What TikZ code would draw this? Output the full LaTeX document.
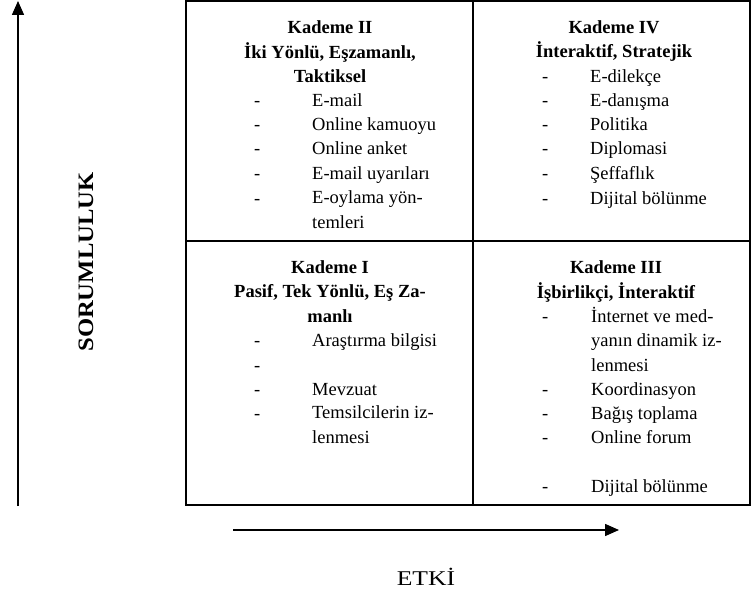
\documentclass[tikz,border=0pt]{standalone}
\usepackage{fontspec}
\setmainfont{Liberation Serif}
\usetikzlibrary{arrows.meta}

\begin{document}
\begin{tikzpicture}[x=1pt,y=-1pt,
  head/.style={anchor=base,font=\fontsize{18.5}{24.25}\selectfont\bfseries,align=center,inner sep=0pt},
  entry/.style={anchor=base west,font=\fontsize{18.5}{24.25}\selectfont,align=left,inner sep=0pt},
  frame/.style={line width=1.8pt},
  axis/.style={line width=1.5pt,-{Triangle[length=14pt,width=12pt]}}]
\useasboundingbox (0,0) rectangle (751,596);
\coordinate (nw) at (186,1);
\coordinate (se) at (750,505);
\coordinate (n) at (473,1);
\coordinate (s) at (473,505);
\coordinate (w) at (186,241);
\coordinate (e) at (750,241);
\draw[frame] (nw) rectangle (se);
\draw[frame] (n)--(s);
\draw[frame] (w)--(e);
% multi-line nodes sit on their last baseline
\node[head] (k2) at (330,82.5) {Kademe II\\İki Yönlü, Eşzamanlı,\\Taktiksel};
\foreach \yy/\txt [count=\i] in {107/E-mail, 131/Online kamuoyu, 155/Online anket, 179.5/E-mail uyarıları}
{
  \node[entry] (k2d\i) at (254,\yy) {-};
  \node[entry] (k2t\i) at (312,\yy) {\txt};
}
\node[entry] (k2d5) at (254,204) {-};
\node[entry] (k2t5) at (312,228) {E-oylama yön-\\temleri};
\node[head] (k4) at (614,58) {Kademe IV\\İnteraktif, Stratejik};
\foreach \yy/\txt [count=\i] in {82.5/E-dilekçe, 107/E-danışma, 131/Politika, 155/Diplomasi, 179.5/Şeffaflık, 204/Dijital bölünme}
{
  \node[entry] (k4d\i) at (542,\yy) {-};
  \node[entry] (k4t\i) at (590,\yy) {\txt};
}
\node[head] (k1) at (330,322) {Kademe I\\Pasif, Tek Yönlü, Eş Za-\\manlı};
\node[entry] (k1d1) at (254,346) {-};
\node[entry] (k1t1) at (312,346) {Araştırma bilgisi};
\node[entry] (k1d2) at (254,371) {-};
\node[entry] (k1d3) at (254,395) {-};
\node[entry] (k1t3) at (312,395) {Mevzuat};
\node[entry] (k1d4) at (254,419) {-};
\node[entry] (k1t4) at (312,443) {Temsilcilerin iz-\\lenmesi};
\node[head] (k3) at (616,298) {Kademe III\\İşbirlikçi, İnteraktif};
\node[entry] (k3d1) at (542,322) {-};
\node[entry] (k3t1) at (591,371) {İnternet ve med-\\yanın dinamik iz-\\lenmesi};
\foreach \yy/\txt [count=\i from 2] in {395/Koordinasyon, 419/Bağış toplama, 443/Online forum, 492/Dijital bölünme}
{
  \node[entry] (k3d\i) at (542,\yy) {-};
  \node[entry] (k3t\i) at (591,\yy) {\txt};
}
% axes
\coordinate (ylow) at (18,506);
\coordinate (ytop) at (18,1);
\draw[axis] (ylow)--(ytop);
\coordinate (xleft) at (233,530);
\coordinate (xright) at (619,530);
\draw[axis] (xleft)--(xright);
\node[rotate=90,font=\fontsize{22}{22}\selectfont\bfseries] (resp) at (86,262) {\scalebox{1.12}[1]{SORUMLULUK}};
\node[anchor=base,font=\fontsize{21}{21}\selectfont] (etki) at (426,585) {\scalebox{1.22}[1]{ETKİ}};
\end{tikzpicture}
\end{document}
